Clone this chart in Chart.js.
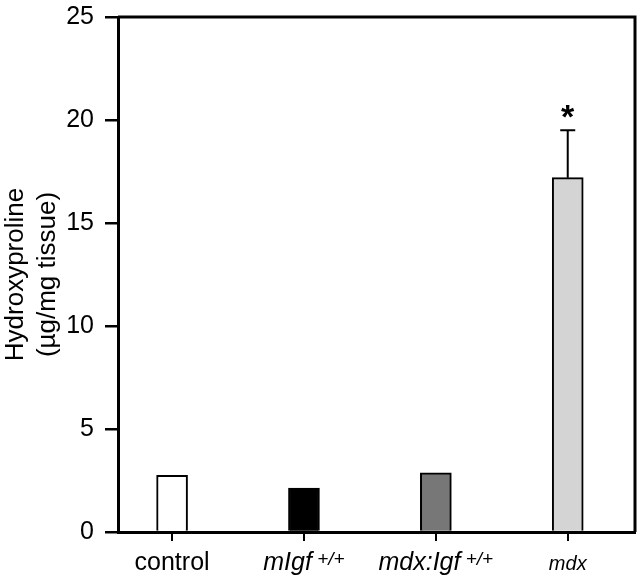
<!DOCTYPE html>
<html>
<head>
<meta charset="utf-8">
<script src="https://cdn.jsdelivr.net/npm/chart.js@4.4.1/dist/chart.umd.min.js"></script>
<style>
  html, body { margin: 0; padding: 0; background: #fff; }
  canvas { display: block; }
</style>
</head>
<body>
<canvas id="chart" width="640" height="578"></canvas>
<script>
var categories = ['control', 'mIgf +/+', 'mdx:Igf +/+', 'mdx'];
var hydroxyproline = [2.75, 2.13, 2.87, 17.2];
var errorUpper = [0, 0, 0, 2.3];
var significance = ['', '', '', '*'];
var yTicks = [0, 5, 10, 15, 20, 25];
// label pieces: [text, italic, kind]
var tickLabels = [
  [['control', false, '']],
  [['mIgf', true, ''], [' +/+', true, 'sup']],
  [['mdx:Igf', true, ''], [' +/+', true, 'sup']],
  [['mdx', true, 'small']]
];

var barColors = ['#ffffff', '#000000', '#777777', '#d4d4d4'];
var FONT = '"Liberation Sans", Arial, Helvetica, sans-serif';

function pieceFont(p) {
  var size = p[2] === 'sup' ? 19 : (p[2] === 'small' ? 20 : 25);
  return (p[1] ? 'italic ' : '') + size + 'px ' + FONT;
}

// category names under the axis, with italics and superscripts
var groupLabels = {
  id: 'groupLabels',
  afterDraw: function (chart) {
    var ctx = chart.ctx, xs = chart.scales.x;
    var base = chart.chartArea.bottom + 38;
    ctx.save();
    ctx.fillStyle = '#000';
    ctx.textBaseline = 'alphabetic';
    ctx.textAlign = 'left';
    tickLabels.forEach(function (parts, i) {
      var w = 0;
      parts.forEach(function (p) { ctx.font = pieceFont(p); w += ctx.measureText(p[0]).width; });
      var x = xs.getPixelForValue(i) - w / 2;
      parts.forEach(function (p) {
        ctx.font = pieceFont(p);
        ctx.fillText(p[0], x, p[2] === 'sup' ? base - 5 : base);
        x += ctx.measureText(p[0]).width;
      });
    });
    ctx.restore();
  }
};

var errorBars = {
  id: 'errorBars',
  afterDatasetsDraw: function (chart) {
    var ctx = chart.ctx, ys = chart.scales.y;
    var bars = chart.getDatasetMeta(0).data;
    ctx.save();
    ctx.strokeStyle = '#000';
    ctx.fillStyle = '#000';
    ctx.lineWidth = 2;
    bars.forEach(function (bar, i) {
      var top = bar.y;
      if (errorUpper[i] > 0) {
        top = ys.getPixelForValue(hydroxyproline[i] + errorUpper[i]);
        ctx.beginPath();
        ctx.moveTo(bar.x, bar.y);
        ctx.lineTo(bar.x, top);
        ctx.moveTo(bar.x - 7.5, top);
        ctx.lineTo(bar.x + 7.5, top);
        ctx.stroke();
      }
      if (significance[i]) {
        ctx.font = 'bold 34px ' + FONT;
        ctx.textAlign = 'center';
        ctx.textBaseline = 'alphabetic';
        ctx.fillText(significance[i], bar.x, top - 2);
      }
    });
    ctx.restore();
  }
};

// top + right frame, and the x tick marks
var frame = {
  id: 'frame',
  afterDraw: function (chart) {
    var ctx = chart.ctx, a = chart.chartArea, xs = chart.scales.x;
    ctx.save();
    ctx.strokeStyle = '#000';
    ctx.lineWidth = 3;
    ctx.beginPath();
    ctx.moveTo(a.left, a.top);
    ctx.lineTo(a.right, a.top);
    ctx.lineTo(a.right, a.bottom);
    ctx.stroke();
    ctx.lineWidth = 2;
    ctx.beginPath();
    xs.ticks.forEach(function (t) {
      var px = Math.round(xs.getPixelForValue(t.value));
      ctx.moveTo(px, a.bottom + 1);
      ctx.lineTo(px, a.bottom + 9);
    });
    ctx.stroke();
    ctx.restore();
  }
};

new Chart(document.getElementById('chart'), {
  type: 'bar',
  data: {
    datasets: [{
      data: hydroxyproline.map(function (v, i) { return { x: i, y: v }; }),
      backgroundColor: barColors,
      borderColor: '#000',
      borderWidth: 2,
      borderSkipped: 'start',
      barThickness: 31
    }]
  },
  options: {
    responsive: false,
    animation: false,
    layout: { padding: { top: 17, right: 5, left: 0, bottom: 0 } },
    plugins: { legend: { display: false }, tooltip: { enabled: false } },
    scales: {
      x: {
        type: 'linear',
        min: -0.41,
        max: 3.51,
        offset: false,
        afterBuildTicks: function (s) {
          s.ticks = categories.map(function (c, i) { return { value: i }; });
        },
        afterFit: function (s) { s.height = 46; },
        ticks: { display: false },
        grid: { offset: false, drawOnChartArea: false, drawTicks: true, tickLength: 9, lineWidth: 2, color: '#000' },
        border: { display: true, color: '#000', width: 3, z: 1 }
      },
      y: {
        min: 0,
        max: 25,
        afterBuildTicks: function (s) {
          s.ticks = yTicks.map(function (v) { return { value: v }; });
        },
        afterFit: function (s) { s.width = 118; s.paddingTop = 0; s.paddingBottom = 0; },
        ticks: { color: '#000', padding: 11, font: { family: FONT, size: 25 } },
        grid: { drawOnChartArea: false, tickLength: 13, lineWidth: 2.5, color: '#000' },
        border: { color: '#000', width: 3, z: 1 },
        title: {
          display: true,
          text: ['Hydroxyproline', '(\u00b5g/mg tissue)'],
          color: '#000',
          font: { family: FONT, size: 26, lineHeight: 1.23 },
          padding: { top: 0, bottom: 0 }
        }
      }
    }
  },
  plugins: [errorBars, frame, groupLabels]
});
</script>
</body>
</html>
